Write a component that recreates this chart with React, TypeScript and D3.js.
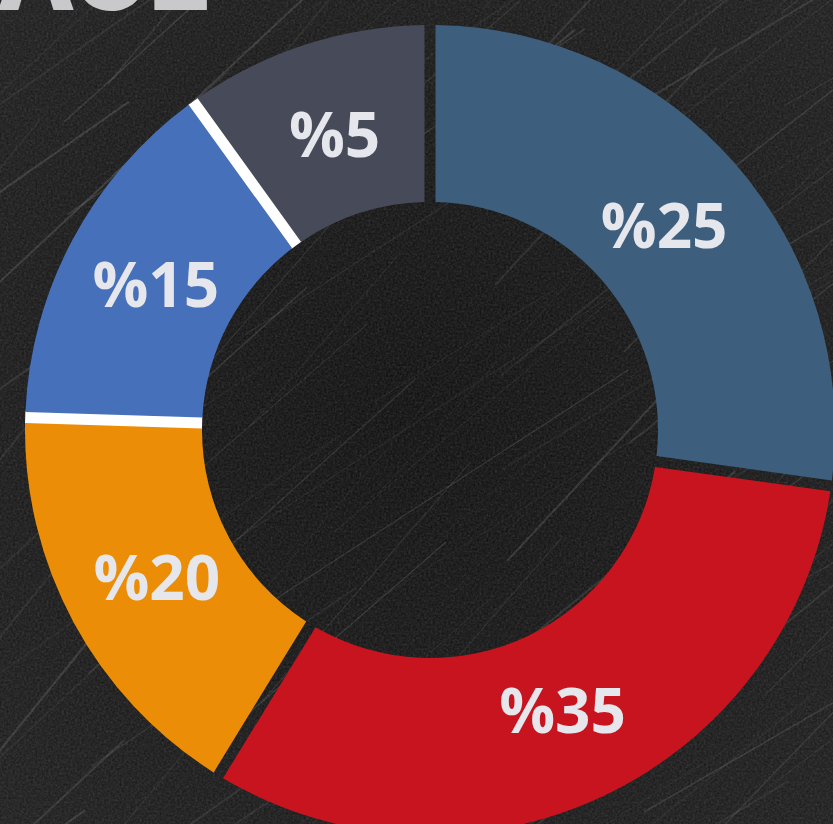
import React, { useEffect } from 'react';
import * as d3 from 'd3';

// Slice labels (as printed) and the printed percentages
const labels: string[] = ['%25', '%35', '%20', '%15', '%5'];
const percents: number[] = [25, 35, 20, 15, 5];
// Angular sweep of each slice as drawn in the picture (degrees)
const sweepDegrees: number[] = [98.5, 114.5, 60, 52, 35];
// Slice colours
const sliceColors: string[] = ['#3d5e7c', '#c8141f', '#ec8d07', '#4670ba', '#474a58'];
// Slices whose side edges are bordered in white
const whiteBordered: boolean[] = [false, false, false, true, false];
// Partially visible heading
const headingText = 'ACE';

const W = 833;
const H = 824;
const CX = 430;
const CY = 430;
const R_OUT = 405;
const R_IN = 228;
const GAP = 11;

type Datum = { label: string; pct: number; sweep: number; color: string; white: boolean };

export default function App() {
  useEffect(() => {
    document.body.style.margin = '0';
    document.body.style.background = '#121212';
  }, []);

  const data: Datum[] = labels.map((l, i) => ({
    label: l,
    pct: percents[i],
    sweep: sweepDegrees[i],
    color: sliceColors[i],
    white: whiteBordered[i],
  }));

  const pie = d3
    .pie<Datum>()
    .sort(null)
    .value((d) => d.sweep)
    .startAngle(0)
    .endAngle(2 * Math.PI)
    .padAngle(GAP / R_OUT);

  const arcs = pie(data);

  const arcGen = d3
    .arc<d3.PieArcDatum<Datum>>()
    .innerRadius(R_IN)
    .outerRadius(R_OUT)
    .padRadius(R_OUT);

  const labelArc = d3
    .arc<d3.PieArcDatum<Datum>>()
    .innerRadius(R_IN - 6)
    .outerRadius(R_OUT - 6);

  // white border lines
  const whiteLines: { a: number; key: string }[] = [];
  arcs.forEach((a, i) => {
    if (a.data.white) {
      whiteLines.push({ a: a.startAngle, key: `s${i}` });
      whiteLines.push({ a: a.endAngle, key: `e${i}` });
    }
  });

  // decorative scratches (deterministic)
  const scratches: { x1: number; y1: number; x2: number; y2: number; o: number; w: number }[] = [];
  for (let i = 0; i < 140; i++) {
    const x0 = ((i * 137) % 1100) - 150;
    const y0 = ((i * 251) % 1050) - 50;
    const len = 100 + ((i * 73) % 460);
    const ang = ((-40 + ((i * 17) % 24) - 12) * Math.PI) / 180;
    scratches.push({
      x1: x0,
      y1: y0,
      x2: x0 + len * Math.cos(ang),
      y2: y0 + len * Math.sin(ang),
      o: 0.05 + ((i * 29) % 10) / 70,
      w: 0.6 + ((i * 7) % 4) * 0.5,
    });
  }

  return (
    <svg
      width={W}
      height={H}
      viewBox={`0 0 ${W} ${H}`}
      style={{ position: 'absolute', left: 0, top: 0, display: 'block' }}
    >
      <defs>
        <filter id="grain" x="0" y="0" width="100%" height="100%">
          <feTurbulence type="fractalNoise" baseFrequency="0.45" numOctaves="3" seed="4" stitchTiles="stitch" />
          <feColorMatrix type="saturate" values="0" />
          <feComponentTransfer>
            <feFuncA type="table" tableValues="0 0.45" />
          </feComponentTransfer>
        </filter>
        <radialGradient id="vig" cx="50%" cy="50%" r="70%">
          <stop offset="0%" stopColor="#0b0b0b" />
          <stop offset="100%" stopColor="#1a1a1a" />
        </radialGradient>
      </defs>
      <rect x={0} y={0} width={W} height={H} fill="url(#vig)" />
      <rect x={0} y={0} width={W} height={H} filter="url(#grain)" opacity={0.45} />
      <g>
        {scratches.map((s, i) => (
          <line
            key={i}
            x1={s.x1}
            y1={s.y1}
            x2={s.x2}
            y2={s.y2}
            stroke="#b5b5b5"
            strokeOpacity={s.o}
            strokeWidth={s.w}
          />
        ))}
      </g>

      <text
        x={212}
        y={10}
        textAnchor="end"
        fontFamily="Inter, 'Open Sans', sans-serif"
        fontWeight={800}
        fontSize={104}
        fill="#c9c9cb"
      >
        {headingText}
      </text>

      <g transform={`translate(${CX},${CY})`}>
        {whiteLines.map((l) => (
          <line
            key={l.key}
            x1={R_IN * Math.sin(l.a)}
            y1={-R_IN * Math.cos(l.a)}
            x2={R_OUT * Math.sin(l.a)}
            y2={-R_OUT * Math.cos(l.a)}
            stroke="#ffffff"
            strokeWidth={13}
          />
        ))}
        {arcs.map((a, i) => (
          <path key={i} d={arcGen(a) || ''} fill={a.data.color} />
        ))}
        {arcs.map((a, i) => {
          const [x, y] = labelArc.centroid(a);
          return (
            <text
              key={`t${i}`}
              x={x}
              y={y}
              dy="0.36em"
              textAnchor="middle"
              fontFamily="'Open Sans', sans-serif"
              fontWeight={700}
              fontSize={62}
              fill="#e6e7ec"
            >
              {a.data.label}
            </text>
          );
        })}
      </g>
    </svg>
  );
}
